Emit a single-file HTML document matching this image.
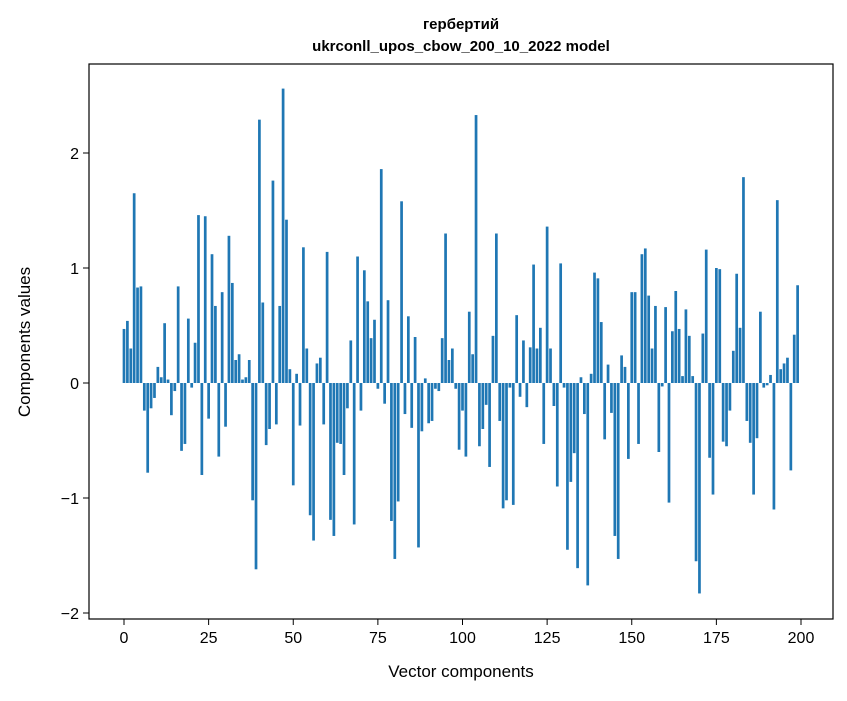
<!DOCTYPE html>
<html><head><meta charset="utf-8"><style>
body{margin:0;background:#fff;}
svg text{font-family:"Liberation Sans","DejaVu Sans",sans-serif;}
</style></head><body>
<svg id="s" width="847" height="696" xmlns="http://www.w3.org/2000/svg">
<rect width="847" height="696" fill="#fff"/>
<text x="461" y="29" font-size="15" font-weight="bold" text-anchor="middle">гербертий</text>
<text x="461" y="51" font-size="15" font-weight="bold" text-anchor="middle">ukrconll_upos_cbow_200_10_2022 model</text>
<g id="bars" fill="#1f77b4"></g>
<rect x="89" y="64" width="744" height="555" fill="none" stroke="#000" stroke-width="1.2"/>
<g id="ax" font-size="16"></g>
<text x="461" y="677" font-size="17" text-anchor="middle">Vector components</text>
<text transform="translate(30,342) rotate(-90)" font-size="17" text-anchor="middle">Components values</text>
</svg>
<script>
var v=[0.47,0.54,0.30,1.65,0.83,0.84,-0.24,-0.78,-0.22,-0.13,0.14,0.05,0.52,0.03,-0.28,-0.07,0.84,-0.59,-0.53,0.56,-0.04,0.35,1.46,-0.80,1.45,-0.31,1.12,0.67,-0.64,0.79,-0.38,1.28,0.87,0.20,0.25,0.03,0.05,0.20,-1.02,-1.62,2.29,0.70,-0.54,-0.40,1.76,-0.36,0.67,2.56,1.42,0.12,-0.89,0.08,-0.37,1.18,0.30,-1.15,-1.37,0.17,0.22,-0.36,1.14,-1.19,-1.33,-0.52,-0.53,-0.80,-0.22,0.37,-1.23,1.10,-0.24,0.98,0.71,0.39,0.55,-0.05,1.86,-0.18,0.72,-1.20,-1.53,-1.03,1.58,-0.27,0.58,-0.39,0.40,-1.43,-0.42,0.04,-0.35,-0.33,-0.05,-0.07,0.39,1.30,0.20,0.30,-0.05,-0.58,-0.24,-0.64,0.62,0.25,2.33,-0.55,-0.40,-0.19,-0.73,0.41,1.30,-0.33,-1.09,-1.02,-0.04,-1.06,0.59,-0.12,0.37,-0.21,0.31,1.03,0.30,0.48,-0.53,1.36,0.30,-0.20,-0.90,1.04,-0.04,-1.45,-0.86,-0.61,-1.61,0.05,-0.27,-1.76,0.08,0.96,0.91,0.53,-0.49,0.16,-0.26,-1.33,-1.53,0.24,0.14,-0.66,0.79,0.79,-0.53,1.12,1.17,0.76,0.30,0.67,-0.60,-0.03,0.66,-1.04,0.45,0.80,0.47,0.06,0.64,0.41,0.06,-1.55,-1.83,0.43,1.16,-0.65,-0.97,1.00,0.99,-0.51,-0.55,-0.24,0.28,0.95,0.48,1.79,-0.33,-0.52,-0.97,-0.48,0.62,-0.04,-0.02,0.07,-1.10,1.59,0.12,0.17,0.22,-0.76,0.42,0.85];
var g=document.getElementById('bars'),h='';
var dx=3.385,y0=383,k=115;
for(var i=0;i<v.length;i++){var x=124+i*dx-1.35,t=v[i]>=0?y0-v[i]*k:y0,hh=Math.abs(v[i])*k;
h+='<rect x="'+x.toFixed(2)+'" y="'+t.toFixed(2)+'" width="2.71" height="'+hh.toFixed(2)+'"/>';}
g.innerHTML=h;
var a='';
for(var j=0;j<=8;j++){var x=124+j*25*dx;a+='<line x1="'+x+'" y1="619" x2="'+x+'" y2="625" stroke="#000"/><text x="'+x+'" y="643" text-anchor="middle">'+(j*25)+'</text>';}
for(var j=-2;j<=2;j++){var y=y0-j*k;a+='<line x1="83" y1="'+y+'" x2="89" y2="'+y+'" stroke="#000"/><text x="79" y="'+(y+6)+'" text-anchor="end">'+(j<0?'\u2212'+(-j):j)+'</text>';}
document.getElementById('ax').innerHTML=a;
</script>
</body></html>
